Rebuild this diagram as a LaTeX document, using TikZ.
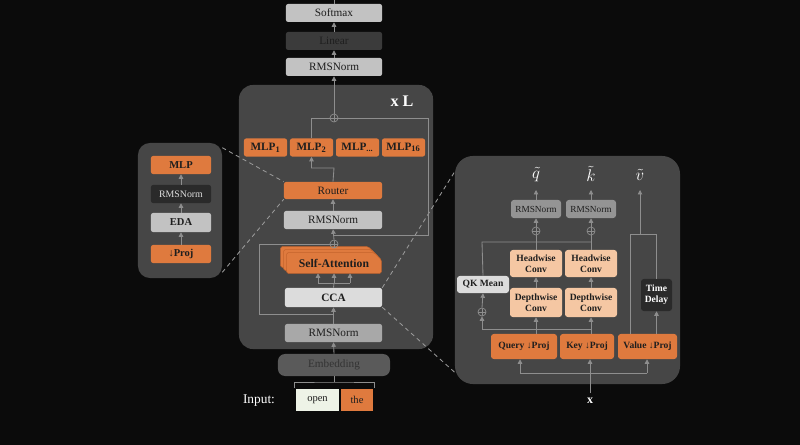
\documentclass[tikz,border=0pt]{standalone}
\usepackage{fontspec}
\setmainfont{Liberation Serif}
\usetikzlibrary{arrows.meta, positioning, calc}
\definecolor{bgcol}{HTML}{0B0B0B}
\definecolor{panelcol}{HTML}{464646}
\definecolor{linecol}{HTML}{8E8E8E}
\definecolor{dashcol}{HTML}{9A9A9A}
\definecolor{orng}{HTML}{DF7A3E}
\definecolor{orngedge}{HTML}{C4642C}
\definecolor{peach}{HTML}{F5C7A3}
\definecolor{lgray}{HTML}{C2C2C2}
\definecolor{mgray}{HTML}{A8A8A8}
\definecolor{xgray}{HTML}{DCDCDC}
\definecolor{dgray}{HTML}{3B3B3B}
\definecolor{blackbox}{HTML}{2A2A2A}
\definecolor{embcol}{HTML}{5A5A5A}
\definecolor{txtdark}{HTML}{1E1E1E}
\definecolor{opencol}{HTML}{EEF3E7}

\begin{document}
\begin{tikzpicture}[
        x=0.025cm, y=-0.025cm,
        >={Triangle[length=3.2pt,width=3.2pt]},
        %% 1 unit = 1 px of the 800x445 frame, y grows downwards
        panel/.style={rectangle, rounded corners=0.35cm, fill=panelcol, inner sep=0pt},
        box/.style={rectangle, rounded corners=1.5pt, inner sep=1pt, align=center, text=txtdark, font=\fontsize{8}{9}\selectfont, minimum height=0.45cm},
        obox/.style={box, fill=orng, font=\fontsize{8}{9}\selectfont\bfseries},
        smallbox/.style={box, rounded corners=2pt, font=\fontsize{6.8}{7.6}\selectfont\bfseries},
        layer/.style={fill=orng, draw=orngedge, line width=0.4pt, rounded corners=1pt},
        oplus/.style={circle, draw=linecol, line width=0.5pt, inner sep=0pt, minimum size=0.2cm, path picture={\draw[linecol, line width=0.5pt] (path picture bounding box.north) -- (path picture bounding box.south) (path picture bounding box.west) -- (path picture bounding box.east);}},
        flow/.style={->, draw=linecol, line width=0.6pt},
        line/.style={draw=linecol, line width=0.6pt},
        dashline/.style={draw=dashcol, line width=0.6pt, dash pattern=on 3pt off 2.5pt},
        label/.style={text=white, inner sep=1pt, font=\fontsize{13}{14}\selectfont}
    ]
    \fill[bgcol] (0,0) rectangle (800,445);
    \useasboundingbox (0,0) rectangle (800,445);

    %% --- Panels ---
    \node[panel, minimum width=4.85cm, minimum height=6.6cm] (mainpanel) at (336,217) {};
    \node[panel, rounded corners=0.3cm, minimum width=2.1cm, minimum height=3.375cm] (lpanel) at (180,210.5) {};
    \node[panel, rounded corners=0.45cm, minimum width=5.625cm, minimum height=5.7cm] (rpanel) at (567.5,270) {};

    %% --- Output head (above the block) ---
    \node[box, fill=lgray, minimum width=2.4cm] (softmax) at (334,13) {Softmax};
    \node[box, fill=dgray, minimum width=2.4cm, text=txtdark] (linear) at (334,41) {Linear};
    \node[box, fill=lgray, minimum width=2.4cm] (rmstop) at (334,67) {RMSNorm};
    \coordinate (outtop) at (334,-1);

    %% --- Repeated block ---
    \node[text=white, font=\fontsize{11.5}{12}\selectfont\bfseries] (reps) at (402,101) {x L};
    \node[obox, minimum width=1.075cm] (mlpa) at (265.5,147.5) {MLP\textsubscript{1}};
    \node[obox, minimum width=1.075cm] (mlpb) at (311.5,147.5) {MLP\textsubscript{2}};
    \node[obox, minimum width=1.075cm] (mlpc) at (357.5,147.5) {MLP\textsubscript{...}};
    \node[obox, minimum width=1.075cm] (mlpd) at (403.5,147.5) {MLP\textsubscript{16}};
    \node[box, fill=orng, minimum width=2.45cm, minimum height=0.425cm] (router) at (333,190.5) {Router};
    \node[box, fill=lgray, minimum width=2.45cm] (rmsmid) at (333,220) {RMSNorm};
    \node[inner sep=0pt, minimum width=2.35cm, minimum height=0.5cm] (sa) at (334,263) {};
    \foreach \d in {6,3,0}
        \path[layer] ([shift={(-\d,-\d)}]sa.south west) -- ([shift={(-\d,-\d)}]sa.north west)
            -- ([shift={(-\d-7,-\d)}]sa.north east) -- ([shift={(-\d,7-\d)}]sa.north east)
            -- ([shift={(-\d,-\d)}]sa.south east) -- cycle;
    \node[font=\fontsize{8.3}{9}\selectfont\bfseries, text=txtdark] (satext) at (sa) {Self-Attention};
    \node[box, fill=xgray, minimum width=2.425cm, minimum height=0.475cm, font=\fontsize{8}{9}\selectfont\bfseries] (cca) at (333.5,297.5) {CCA};
    \node[box, fill=mgray, minimum width=2.425cm] (rmsbot) at (333.5,333) {RMSNorm};
    \node[oplus] (plusa) at (334,118) {};
    \node[oplus] (plusb) at (334,244) {};

    %% --- Embedding and input tokens ---
    \node[box, fill=embcol, rounded corners=5pt, minimum width=2.8cm, minimum height=0.55cm, text=txtdark!65!embcol] (embed) at (334,365) {Embedding};
    \node[text=white, font=\fontsize{9.5}{11}\selectfont] (inlabel) at (259,401) {Input:};
    \node[box, rounded corners=0pt, fill=opencol, minimum width=1.075cm, minimum height=0.55cm, font=\fontsize{7.5}{9}\selectfont] (tokopen) at (317.5,400) {open};
    \node[box, rounded corners=0pt, fill=orng, minimum width=0.8cm, minimum height=0.55cm, font=\fontsize{7.5}{9}\selectfont] (tokthe) at (357,400) {the};
    \coordinate (brl) at (294,388);
    \coordinate (brr) at (374,388);
    \coordinate (brm) at (334,382);

    %% --- Left panel: expert MLP ---
    \node[obox, minimum width=1.5cm, font=\fontsize{7.5}{9}\selectfont\bfseries] (lmlp) at (181,165) {MLP};
    \node[box, fill=blackbox, text=xgray, minimum width=1.5cm, font=\fontsize{7}{8}\selectfont] (lrms) at (181,194) {RMSNorm};
    \node[box, fill=lgray, minimum width=1.5cm, minimum height=0.475cm, font=\fontsize{7.5}{9}\selectfont\bfseries] (leda) at (181,222.5) {EDA};
    \node[obox, minimum width=1.5cm, font=\fontsize{7.5}{9}\selectfont\bfseries] (lproj) at (181,254) {↓Proj};

    %% --- Right panel: CCA detail ---
    \node[label] (qt) at (536,175) {$\tilde{q}$};
    \node[label] (kt) at (591,174) {$\tilde{k}$};
    \node[label] (vt) at (640,175) {$\tilde{v}$};
    \node[box, fill=mgray!88!black, rounded corners=2pt, minimum width=1.25cm, font=\fontsize{6.6}{7.5}\selectfont] (rq) at (536,209) {RMSNorm};
    \node[box, fill=mgray!88!black, rounded corners=2pt, minimum width=1.25cm, font=\fontsize{6.6}{7.5}\selectfont] (rk) at (591,209) {RMSNorm};
    \node[oplus] (pq) at (536,231) {};
    \node[oplus] (pk) at (591,231) {};
    \node[smallbox, fill=peach, minimum width=1.3cm, minimum height=0.675cm] (hq) at (536,263.5) {Headwise\\Conv};
    \node[smallbox, fill=peach, minimum width=1.3cm, minimum height=0.675cm] (hk) at (591,263.5) {Headwise\\Conv};
    \node[smallbox, fill=peach, minimum width=1.3cm, minimum height=0.725cm] (dq) at (536,302.5) {Depthwise\\Conv};
    \node[smallbox, fill=peach, minimum width=1.3cm, minimum height=0.725cm] (dk) at (591,302.5) {Depthwise\\Conv};
    \node[smallbox, fill=xgray, minimum width=1.3cm, minimum height=0.425cm] (qkm) at (483,284.5) {QK Mean};
    \node[oplus] (pm) at (482,312) {};
    \node[smallbox, fill=orng, minimum width=1.65cm, minimum height=0.625cm] (qp) at (524,346.5) {Query ↓Proj};
    \node[smallbox, fill=orng, minimum width=1.35cm, minimum height=0.625cm] (kp) at (587,346.5) {Key ↓Proj};
    \node[smallbox, fill=orng, minimum width=1.475cm, minimum height=0.625cm] (vp) at (647.5,346.5) {Value ↓Proj};
    \node[smallbox, fill=blackbox, text=white, minimum width=0.775cm, minimum height=0.8cm] (td) at (656.5,295) {Time\\Delay};
    \node[text=white, font=\fontsize{8.5}{9}\selectfont\bfseries] (xin) at (590,401) {x};
    \coordinate (qkjoin) at (482,329);
    \coordinate (qkline) at (482,242);
    \coordinate (vtl) at (630,234);
    \coordinate (xsplit) at (590,373);
    \coordinate (xsl) at (520,373);
    \coordinate (xsr) at (647,373);

    %% --- Zoom guides (dashed) ---
    \draw[dashline] ($(lpanel.north east)+(0,5)$) -- (router.north west);
    \draw[dashline] ($(lpanel.south east)+(0,-6)$) -- (router.south west);
    \draw[dashline] (cca.north east) -- ($(rpanel.north west)+(0,16)$);
    \draw[dashline] (cca.south east) -- ($(rpanel.south west)+(0,-12)$);

    %% --- Main stack ---
    \draw[line] (brl) |- (brm) -| (brr);
    \draw[line] (brm) -- (embed.south);
    \draw[flow] (embed.north) -- (rmsbot.south);
    \draw[flow] (rmsbot.north) -- (cca.south);
    \coordinate (skipa) at (334,314);
    \draw[line] (skipa) -- (259,314) |- (plusb.west);
    \coordinate (split) at (334,283);
    \coordinate (splitl) at (318,283);
    \coordinate (splitr) at (350,283);
    \draw[line] (cca.north) -- (split);
    \draw[line] (splitl) -- (splitr);
    \draw[flow] (splitl) -- (splitl |- sa.south);
    \draw[flow] (split) -- (sa.south);
    \draw[flow] (splitr) -- (splitr |- sa.south);
    \draw[line] ([yshift=0.15cm]sa.north) -- (plusb.south);
    \draw[flow] (plusb.north) -- (rmsmid.south);
    \coordinate (skipb) at (334,235);
    \draw[line] (skipb) -- (428,235) |- (plusa.east);
    \draw[flow] (rmsmid.north) -- (router.south);
    \coordinate (rout) at (334,168);
    \draw[flow] (router.north) -- (rout) -| (mlpb.south);
    \draw[line] (mlpb.north) |- (plusa.west);
    \draw[flow] (plusa.north) -- (rmstop.south);
    \draw[flow] (rmstop.north) -- (linear.south);
    \draw[flow] (linear.north) -- (softmax.south);
    \draw[line] (softmax.north) -- (outtop);

    %% --- Left panel flow ---
    \draw[flow] (lproj.north) -- (leda.south);
    \draw[flow] (leda.north) -- (lrms.south);
    \draw[flow] (lrms.north) -- (lmlp.south);

    %% --- Right panel flow ---
    \draw[line] (xin.north) -- (xsplit);
    \draw[line] (xsl) -- (xsr);
    \draw[flow] (xsl) -- (xsl |- qp.south);
    \draw[flow] (xsplit) -- (xsplit |- kp.south);
    \draw[flow] (xsr) -- (xsr |- vp.south);
    \draw[flow] (qp.north -| dq.south) -- (dq.south);
    \draw[flow] (kp.north -| dk.south) -- (dk.south);
    \draw[line] (dk.south |- qkjoin) -- (qkjoin);
    \draw[flow] (qkjoin) -- (pm.south);
    \draw[flow] (pm.north) -- (qkm.south);
    \draw[line] (qkm.north) -- (qkline) -- (qkline -| pk.south);
    \draw[flow] (dq.north) -- (hq.south);
    \draw[flow] (dk.north) -- (hk.south);
    \draw[line] (hq.north) -- (pq.south);
    \draw[line] (hk.north) -- (pk.south);
    \draw[flow] (pq.north) -- (rq.south);
    \draw[flow] (pk.north) -- (rk.south);
    \draw[flow] (rq.north) -- (536,190);
    \draw[flow] (rk.north) -- (591,190);
    \draw[flow] (vp.north -| td.south) -- (td.south);
    \draw[line] (vp.north -| vtl) -- (vtl) -| (td.north);
    \draw[flow] (vt.south |- vtl) -- (640,190);
\end{tikzpicture}
\end{document}
